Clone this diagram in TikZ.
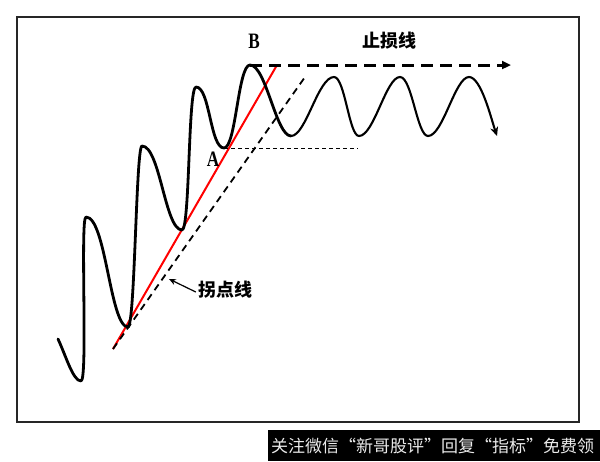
\documentclass[tikz,border=0pt]{standalone}
\usepackage{fontspec}
\setmainfont{Liberation Serif}
\newfontfamily\condserif[FakeStretch=0.78]{Liberation Serif}
\newfontfamily\cjk{Noto Sans CJK SC}
\usetikzlibrary{arrows.meta}
\tikzset{
  frame/.style={draw=black!85, line width=1.4pt},
  wave/.style={line width=2.8pt, line cap=round, line join=round},
  wavethin/.style={line width=2.1pt, line cap=round, line join=round},
  redline/.style={draw=red, line width=2pt},
  diagdash/.style={line width=1.8pt, dash pattern=on 7pt off 5pt},
  stopline/.style={line width=3pt, dash pattern=on 12pt off 7pt, -{Triangle[length=9pt,width=8pt]}},
  thindash/.style={line width=0.8pt, dash pattern=on 4pt off 3pt},
  letter/.style={font=\condserif\bfseries\fontsize{22}{22}\selectfont, inner sep=0pt},
  cjklabel/.style={font=\cjk\bfseries\fontsize{18}{18}\selectfont, inner sep=0pt},
}
\begin{document}
\begin{tikzpicture}[x=1pt,y=-1pt]
\useasboundingbox (0,0) rectangle (600,461);
\fill[white] (0,0) rectangle (600,461);
\draw[frame] (17,17) rectangle (579,422);

% key points
\coordinate (s) at (58,339);
\coordinate (t1) at (81,381);
\coordinate (p1) at (86,217);
\coordinate (t2) at (128,327);
\coordinate (p2) at (142,146);
\coordinate (t3) at (182,230);
\coordinate (p3) at (196,87);
\coordinate (A) at (224,148);
\coordinate (B) at (250,65);
\coordinate (t5) at (291,136);
\coordinate (p5) at (334,77);
\coordinate (t6) at (359,136);
\coordinate (p6) at (400,77);
\coordinate (t7) at (428,136);
\coordinate (p7) at (469,77);
\coordinate (e) at (497,136);

\coordinate (r0) at (113,349);
\coordinate (r1) at (277,65);
\coordinate (d1) at (305,77);
\coordinate (sEnd) at (511,65);
\coordinate (hEnd) at (358,148);
\coordinate (ptip) at (169,279);

% trend lines
\draw[redline] (r0) -- (r1);
\draw[diagdash] (r0) -- (d1);
\draw[thindash] (A) -- (hEnd);
\draw[stopline] (B) -- (sEnd);

% price wave
\draw[wave] (s) .. controls (66,356) and (73,381) .. (t1)
  .. controls (88,381) and (80,217) .. (p1)
  .. controls (106,217) and (110,327) .. (t2)
  .. controls (135,327) and (136,146) .. (p2)
  .. controls (160,146) and (165,230) .. (t3)
  .. controls (190,230) and (188,87) .. (p3)
  .. controls (210,87) and (210,148) .. (A)
  .. controls (236,148) and (238,65) .. (B)
  .. controls (266,65) and (276,136) .. (t5);
\draw[wavethin, -{Stealth[length=9pt,width=8pt]}] (t5)
  .. controls (306,136) and (318,77) .. (p5)
  .. controls (345,77) and (349,136) .. (t6)
  .. controls (374,136) and (386,77) .. (p6)
  .. controls (412,77) and (417,136) .. (t7)
  .. controls (443,136) and (455,77) .. (p7)
  .. controls (481,77) and (491,118) .. (e);

% labels
\node[letter] (lB) at (254,41) {B};
\node[letter] (lA) at (213,159) {A};
\node[cjklabel] (lstop) at (389,41) {止损线};
\node[cjklabel] (lturn) at (225,290) {拐点线};
\draw[line width=1.2pt, -{Stealth[length=7pt,width=6pt]}] (lturn.west) ++(-2,2) -- (ptip);

% watermark bar
\fill[black] (268,430) rectangle (600,461);
\node[anchor=west, text=white!92!black, font=\cjk\fontsize{17}{17}\selectfont, inner sep=0pt] (wm) at (271,446) {关注微信“新哥股评”回复“指标”免费领};
\end{tikzpicture}
\end{document}
